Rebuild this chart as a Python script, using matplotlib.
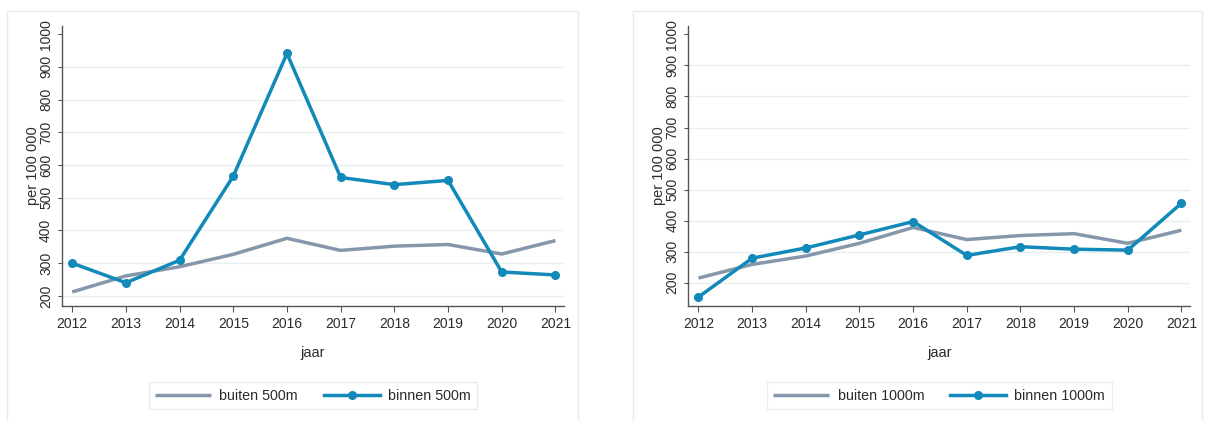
import matplotlib.pyplot as plt
from matplotlib.patches import Rectangle

plt.rcParams["font.family"] = ["Liberation Sans", "DejaVu Sans"]

years = [2012, 2013, 2014, 2015, 2016, 2017, 2018, 2019, 2020, 2021]

buiten_500 = [212, 261, 289, 327, 376, 339, 352, 357, 328, 369]
binnen_500 = [300, 240, 309, 566, 941, 562, 540, 553, 273, 264]

buiten_1000 = [215, 259, 286, 327, 378, 339, 352, 358, 327, 369]
binnen_1000 = [154, 279, 312, 354, 397, 288, 316, 308, 305, 456]

yticks = [200, 300, 400, 500, 600, 700, 800, 900, 1000]

col_buiten = "#8797ab"
col_binnen = "#1189b9"
col_frame = "#e4ecee"
col_text = "#2b2b2b"

fig = plt.figure(figsize=(12.06, 4.21), dpi=100)

# light panel frames
for x0, x1 in [(6.5, 578.3), (632.5, 1201.7)]:
    fig.patches.append(Rectangle(
        (x0 / 1206, -0.02), (x1 - x0) / 1206, 1.02 - 11 / 421,
        transform=fig.transFigure, fill=False,
        edgecolor=col_frame, linewidth=1.0
    ))

panels = [
    ([62 / 1206, 0.2739, 502 / 1206, 0.6651], buiten_500, binnen_500,
     "buiten 500m", "binnen 500m", (170, 1026)),
    ([688.3 / 1206, 0.2739, 501.7 / 1206, 0.6651], buiten_1000, binnen_1000,
     "buiten 1000m", "binnen 1000m", (126, 1028)),
]

for rect, buiten, binnen, lab_b, lab_n, ylim in panels:
    ax = fig.add_axes(rect)
    ax.plot(years, buiten, color=col_buiten, linewidth=2.5,
            solid_capstyle="butt", label=lab_b)
    ax.plot(years, binnen, color=col_binnen, linewidth=2.5,
            marker="o", markersize=5.5, label=lab_n)

    ax.set_xlim(2011.81, 2021.16)
    ax.set_ylim(*ylim)
    ax.set_xticks(years)
    ax.set_yticks(yticks)
    ax.set_yticklabels([str(v) for v in yticks], rotation=90, va="center")

    ax.grid(axis="y", color="#e6f0f1", linewidth=1.0)
    ax.get_ygridlines()[-1].set_visible(False)
    ax.set_axisbelow(True)

    for s in ["top", "right"]:
        ax.spines[s].set_visible(False)
    for s in ["left", "bottom"]:
        ax.spines[s].set_color("#555555")
        ax.spines[s].set_linewidth(1.0)

    ax.tick_params(axis="y", length=3, width=0.8, pad=3.5,
                   labelsize=10, colors="#555555", labelcolor=col_text)
    ax.tick_params(axis="x", length=4.5, width=0.8, pad=4,
                   labelsize=10, colors="#555555", labelcolor=col_text)

    ax.set_xlabel("jaar", fontsize=10.5, color=col_text)
    ax.xaxis.set_label_coords(0.5, -0.168)
    ax.xaxis.label.set_va("center")
    ax.set_ylabel("per 100 000", fontsize=10.5, color=col_text)
    ax.yaxis.set_label_coords(-0.058, 0.5)
    ax.yaxis.label.set_va("center")

    leg = ax.legend(loc="center", bbox_to_anchor=(0.5, -0.321), ncol=2,
                    fontsize=10.3, frameon=True, fancybox=False,
                    handlelength=3.9, handletextpad=0.6, columnspacing=1.8,
                    borderpad=0.45, borderaxespad=0)
    leg.get_frame().set_edgecolor(col_frame)
    leg.get_frame().set_linewidth(1.0)
    for t in leg.get_texts():
        t.set_color(col_text)

plt.savefig("out.png", dpi=100)
